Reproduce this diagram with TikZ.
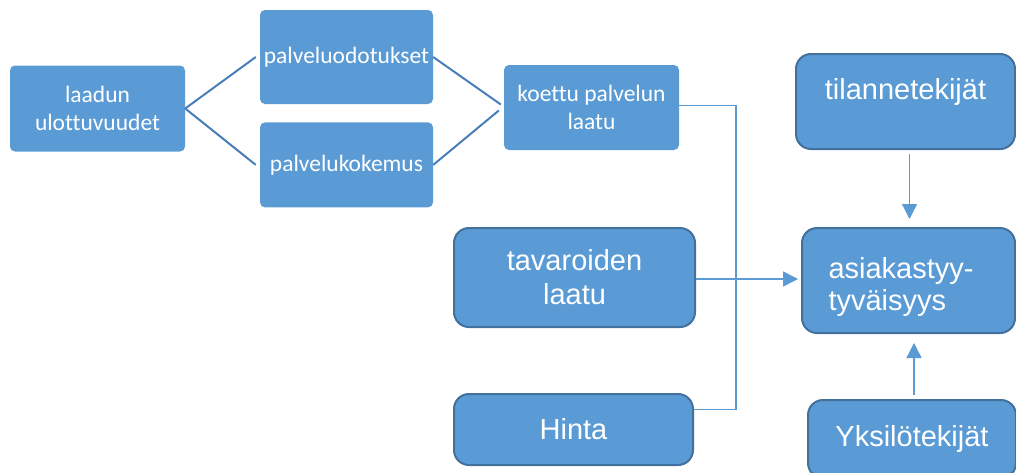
\documentclass[tikz,border=0pt]{standalone}
\usepackage{fontspec}
\setmainfont{Liberation Sans}
\newfontfamily\calibrifont[Ligatures=NoCommon]{Carlito}
\usepackage{xcolor}
\definecolor{BOXCOLOR}{HTML}{5B9BD5}
\definecolor{BORDERCOLOR}{HTML}{41719C}
\definecolor{LINKCOLOR}{HTML}{4A7EBB}
\usetikzlibrary{arrows.meta,positioning,calc}
\tikzset{
  basic-style/.style = {
    rectangle, fill=BOXCOLOR, text=white,
    inner sep=2pt, align=center,
    minimum width=#1
  },
  small-style/.style = {
    basic-style=#1, rounded corners=5pt,
    font=\calibrifont\fontsize{23.5}{28}\selectfont
  },
  big-style/.style = {
    basic-style=#1, rounded corners=15pt,
    draw=BORDERCOLOR, line width=2pt,
    font=\fontsize{29}{34}\selectfont
  },
  link-style/.style = {draw=LINKCOLOR, line width=2pt},
  elbow-style/.style = {draw=BOXCOLOR, line width=1.3pt},
  arrow-style/.style = {elbow-style, -{Triangle[length=15pt,width=15pt]}}
}

\begin{document}
\begin{tikzpicture}[x=1pt,y=-1pt]
    \clip (0,0) rectangle (1016,472);
    \fill[white] (0,0) rectangle (1016,472);

    %%% service quality
    \node[small-style=175pt, minimum height=86pt] (laadun) at (97.5,108.5) {laadun\\ulottuvuudet};
    \node[small-style=173pt, minimum height=94pt] (odotukset) at (346.5,57) {palveluodotukset};
    \node[small-style=173pt, minimum height=85pt, below=18pt of odotukset] (kokemus) {palvelukokemus};
    \node[small-style=175pt, minimum height=85pt] (koettu) at (591.5,107.5) {koettu palvelun\\laatu};

    %%% other factors
    \node[big-style=241pt, minimum height=99pt] (tavarat) at (574.5,277.5) {tavaroiden\\laatu};
    \node[big-style=239pt, minimum height=71pt] (hinta) at (573.5,429.5) {Hinta};
    \node[big-style=219pt, minimum height=95pt, text depth=25pt] (tilanne) at (905.5,101.5) {tilannetekijät};
    \node[big-style=213pt, minimum height=105pt, text width=160pt, inner xsep=26pt, align=left,
          font=\fontsize{29}{32}\selectfont] (tyytyvaisyys) at (908.5,280.5) {\rule{0pt}{35pt}asiakastyy-\\tyväisyys};
    \node[big-style=208pt, minimum height=78pt] (yksilo) at (912,439) {Yksilötekijät};

    %%% links
    \path[link-style] (laadun.east) edge ([xshift=-4pt]odotukset.west)
                      (laadun.east) edge ([xshift=-4pt]kokemus.west);
    \path[link-style] (odotukset.east) edge ([xshift=-3pt,yshift=3pt]koettu.west)
                      (kokemus.east) edge ([xshift=-5pt,yshift=-3pt]koettu.west);

    %%% arrows
    \coordinate (jn) at (736,279);
    \draw[elbow-style] ([yshift=2pt]koettu.east) -| (jn) |- ([yshift=20pt]hinta.east);
    \draw[arrow-style, shorten >=3pt] (tavarat.east |- jn) -- (tyytyvaisyys.west |- jn);
    \draw[arrow-style, shorten <=4pt, shorten >=8pt] ([xshift=4pt]tilanne.south) -- ([xshift=4pt]tilanne.south |- tyytyvaisyys.north);
    \draw[arrow-style, shorten <=4pt, shorten >=9pt] ([xshift=2pt]yksilo.north) -- ([xshift=2pt]yksilo.north |- tyytyvaisyys.south);
\end{tikzpicture}
\end{document}
